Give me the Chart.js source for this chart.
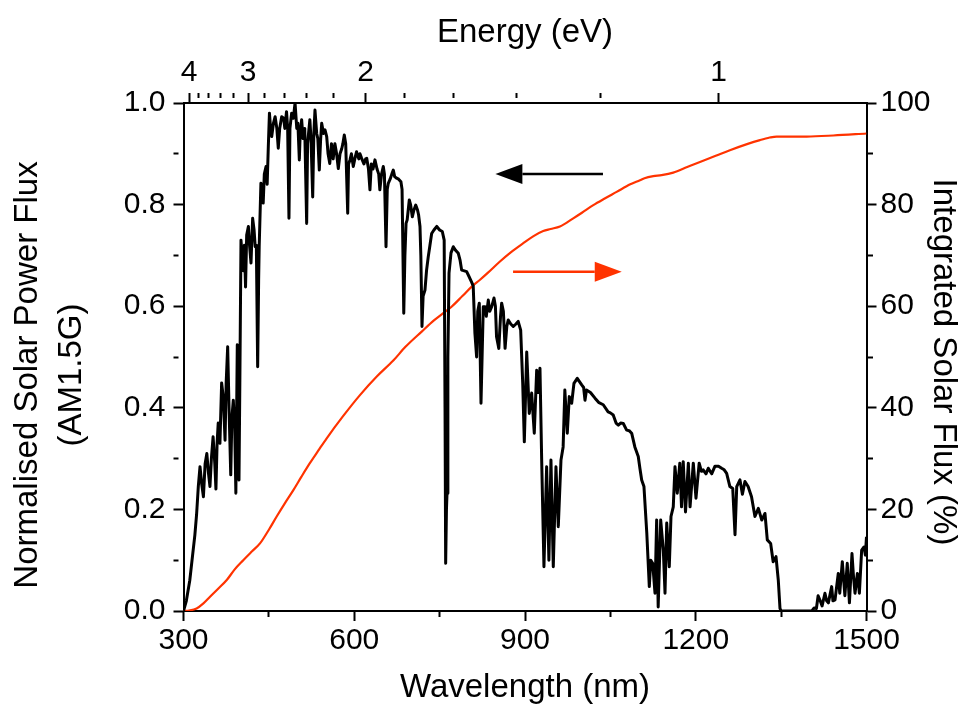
<!DOCTYPE html>
<html>
<head>
<meta charset="utf-8">
<script src="https://cdn.jsdelivr.net/npm/chart.js@4.4.1/dist/chart.umd.min.js"></script>
<style>
  html, body { margin: 0; padding: 0; background: #fff; }
  #wrap { width: 968px; height: 709px; }
</style>
</head>
<body>
<div id="wrap"><canvas id="Chart" width="968" height="709"></canvas></div>
<script>
// AM1.5G spectrum, normalised to its peak
const wavelength = [
  300, 305, 311, 316, 320, 323, 326, 329, 332, 335, 338, 341, 344, 346.5, 349, 352, 355, 357, 359, 361,
  364, 367, 370, 373, 375, 377.6, 380, 383, 385, 387.5, 390, 392, 394.5, 396, 397.5, 399, 401, 403, 405, 407,
  409, 411, 414, 416, 418.6, 421.5, 424, 426, 428, 430.3, 432, 433, 436, 438, 440, 442, 445, 447, 449, 451,
  453, 455, 458, 461, 464, 466.5, 469, 472.5, 476, 478, 481, 483, 485.3, 487, 490, 493, 496, 499, 501, 503.5,
  505, 507.6, 510, 513, 516.4, 518, 522, 524, 527, 529, 531, 534, 536, 538.6, 541, 542.8, 546, 548.6, 551.6, 554,
  557, 560, 563, 566, 569, 572, 575, 578, 580, 582.5, 585, 588.5, 590, 592.5, 595, 598.3, 601, 604, 608, 610,
  613, 617, 620, 622, 625, 627.6, 630, 633, 636.4, 640, 643, 645, 648, 651, 653, 655.8, 658, 659.8, 663, 666,
  668.6, 671, 674.5, 678, 682, 684, 687, 689, 691, 693, 696.7, 699, 702, 705, 708, 711, 713, 715.5, 717, 719,
  721, 724.3, 727, 730, 733, 736, 740, 745, 750, 754.7, 758, 759.5, 760.6, 762, 763, 764.5, 766.5, 770, 774, 778,
  782.8, 786, 788.7, 792, 797.5, 801, 806, 809, 812, 815, 817, 819.7, 822.7, 826.7, 829.7, 832, 835.5, 838, 841.5, 845.5,
  848, 850, 854, 857, 859, 862, 865, 868, 870.6, 875, 879.4, 884, 888, 892.4, 896, 898.8, 903, 907.5, 911.7, 916.3,
  920.5, 923, 926.3, 929.3, 933.3, 938, 942, 945.6, 949.7, 954.4, 958.5, 963.2, 967, 970, 974.3, 977.8, 982, 986, 991.8, 999.6,
  1003, 1005.4, 1008, 1015, 1023, 1030, 1037.5, 1046, 1050, 1055, 1060, 1064, 1068, 1072.7, 1078.6, 1083, 1087.4, 1093, 1099, 1102,
  1105, 1109, 1114, 1118.4, 1121, 1124.3, 1128.4, 1131.3, 1134, 1138.4, 1143, 1146, 1149, 1153.5, 1156.5, 1160.5, 1163.5, 1167.5, 1172, 1175,
  1178, 1182, 1187, 1190, 1195.7, 1200.4, 1206, 1210, 1213, 1218, 1222, 1228, 1233.8, 1240, 1245.5, 1250, 1254.3, 1260, 1265, 1269,
  1272, 1277.7, 1282, 1286.4, 1292, 1298, 1304, 1310, 1316, 1321.6, 1325.7, 1331.6, 1336, 1341, 1345, 1348, 1350, 1400, 1404, 1408,
  1412, 1415, 1418, 1422, 1427, 1430, 1433, 1438.8, 1441, 1444.7, 1450.4, 1453, 1457.5, 1460, 1462, 1466.2, 1470, 1474.5, 1477, 1479.8,
  1484, 1487.5, 1491.5, 1495.6, 1498, 1500
];
const solarFlux = [
  0, 0.02, 0.06, 0.11, 0.15, 0.19, 0.245, 0.284, 0.25, 0.225, 0.29, 0.31, 0.27, 0.245, 0.3, 0.343, 0.29, 0.24, 0.33, 0.37,
  0.33, 0.449, 0.42, 0.336, 0.45, 0.52, 0.4, 0.268, 0.38, 0.415, 0.36, 0.232, 0.524, 0.35, 0.258, 0.45, 0.73, 0.7, 0.67, 0.72,
  0.638, 0.74, 0.757, 0.72, 0.685, 0.773, 0.75, 0.717, 0.72, 0.481, 0.65, 0.717, 0.842, 0.82, 0.803, 0.86, 0.875, 0.84, 0.914, 0.98,
  0.95, 0.934, 0.96, 0.973, 0.95, 0.911, 0.95, 0.973, 0.97, 0.95, 0.983, 0.95, 0.773, 0.95, 0.98, 0.97, 1.0, 0.95, 0.96, 0.888,
  0.94, 0.967, 0.93, 0.95, 0.763, 0.92, 0.967, 0.93, 0.815, 0.94, 0.986, 0.94, 0.93, 0.868, 0.93, 0.96, 0.94, 0.947, 0.934, 0.9,
  0.881, 0.92, 0.89, 0.92, 0.9, 0.871, 0.9, 0.91, 0.92, 0.937, 0.92, 0.783, 0.88, 0.888, 0.9, 0.875, 0.89, 0.904, 0.89, 0.9,
  0.891, 0.88, 0.89, 0.891, 0.87, 0.829, 0.88, 0.87, 0.888, 0.87, 0.86, 0.829, 0.86, 0.875, 0.86, 0.717, 0.83, 0.842, 0.85, 0.86,
  0.868, 0.855, 0.852, 0.85, 0.845, 0.83, 0.586, 0.7, 0.763, 0.77, 0.809, 0.8, 0.776, 0.79, 0.799, 0.79, 0.78, 0.757, 0.7, 0.56,
  0.62, 0.632, 0.67, 0.697, 0.72, 0.743, 0.75, 0.757, 0.75, 0.747, 0.73, 0.4, 0.094, 0.2, 0.232, 0.5, 0.665, 0.705, 0.717, 0.71,
  0.704, 0.69, 0.671, 0.67, 0.668, 0.66, 0.648, 0.64, 0.547, 0.5, 0.59, 0.606, 0.409, 0.599, 0.599, 0.58, 0.612, 0.59, 0.599, 0.616,
  0.6, 0.54, 0.517, 0.58, 0.606, 0.59, 0.517, 0.56, 0.573, 0.565, 0.56, 0.565, 0.57, 0.553, 0.448, 0.333, 0.51, 0.389, 0.429, 0.35,
  0.474, 0.43, 0.478, 0.297, 0.087, 0.284, 0.1, 0.297, 0.087, 0.284, 0.166, 0.297, 0.323, 0.435, 0.35, 0.422, 0.409, 0.448, 0.458, 0.445,
  0.44, 0.415, 0.435, 0.43, 0.419, 0.41, 0.406, 0.392, 0.39, 0.386, 0.37, 0.366, 0.37, 0.369, 0.356, 0.355, 0.35, 0.323, 0.304, 0.28,
  0.258, 0.245, 0.153, 0.048, 0.1, 0.094, 0.035, 0.179, 0.008, 0.179, 0.12, 0.035, 0.173, 0.087, 0.186, 0.205, 0.284, 0.232, 0.291, 0.205,
  0.294, 0.195, 0.291, 0.205, 0.291, 0.222, 0.291, 0.275, 0.278, 0.27, 0.281, 0.27, 0.285, 0.285, 0.281, 0.278, 0.271, 0.245, 0.241, 0.15,
  0.245, 0.258, 0.23, 0.255, 0.245, 0.225, 0.186, 0.202, 0.179, 0.192, 0.14, 0.133, 0.097, 0.107, 0.061, 0.005, 0, 0, 0, 0.006,
  0.005, 0.03, 0.022, 0.01, 0.035, 0.02, 0.016, 0.048, 0.02, 0.022, 0.074, 0.035, 0.097, 0.06, 0.03, 0.094, 0.016, 0.113, 0.07, 0.035,
  0.074, 0.035, 0.12, 0.126, 0.11, 0.146
];

// cumulative share of the solar power, in %
const integratedWavelength = [
  300, 310, 323, 335, 346.6, 360, 376, 390, 405, 420, 434.4, 450, 463.7, 478, 493, 507, 522, 537, 551.6, 580,
  610, 640, 668.6, 690, 718.5, 740, 759.4, 771, 790, 806, 821, 835, 856, 875, 897, 915, 932, 945, 961.4, 984.8,
  1000, 1020, 1040, 1061, 1085, 1102, 1110, 1125.4, 1140, 1160.5, 1185, 1207.4, 1235, 1260, 1290, 1312.8, 1330, 1342, 1395, 1441.6,
  1500
];
const integratedFlux = [
  0, 0.1, 0.5, 1.5, 2.8, 4.3, 6.1, 8.2, 10, 11.7, 13.3, 16, 18.6, 21.2, 23.8, 26.4, 29.1, 31.6, 34, 38.3,
  42.5, 46.2, 49.3, 52.0, 55.0, 57.2, 58.9, 59.9, 62, 63.8, 65.2, 66.6, 68.8, 70.6, 72.4, 73.8, 74.8, 75.2, 75.7, 77.3,
  78.4, 79.9, 81.2, 82.5, 84.0, 84.8, 85.2, 85.6, 85.8, 86.3, 87.4, 88.4, 89.6, 90.7, 91.9, 92.7, 93.2, 93.4, 93.4, 93.6,
  94.0
];

// photon energy ticks on the top axis (eV), placed at 1240/E nm
const energyTicks = [4, 3.8, 3.6, 3.4, 3.2, 3, 2.8, 2.6, 2.4, 2.2, 2, 1.8, 1.6, 1.4, 1.2, 1];

const RED = '#ff3300';
const FONT = '"Liberation Sans", Arial, sans-serif';

function isWholeEnergy(nm) {
  const e = 1240 / nm;
  return Math.abs(e - Math.round(e)) < 1e-6;
}

// minor ticks: only the first few pixels of the tick line are drawn
const MINOR_DASH = [5, 40];

function axisStyle(isMajor) {
  return {
    drawOnChartArea: false,
    drawTicks: true,
    tickLength: 10,
    tickWidth: 2,
    tickColor: '#000',
    tickBorderDash: c => (c.tick && isMajor(c.tick.value)) ? [] : MINOR_DASH
  };
}

const tickFont = { family: FONT, size: 30 };

// axis titles and the two arrows
const decorations = {
  id: 'decorations',
  afterDraw(chart) {
    const { ctx, chartArea: a, scales } = chart;
    const cx = (a.left + a.right) / 2;
    ctx.save();
    ctx.fillStyle = '#000';
    ctx.font = '33px ' + FONT;
    ctx.textAlign = 'center';
    ctx.textBaseline = 'alphabetic';
    ctx.fillText('Energy (eV)', cx, 42);
    ctx.fillText('Wavelength (nm)', cx, 697);

    ctx.save();
    ctx.translate(37, 375);
    ctx.rotate(-Math.PI / 2);
    ctx.fillText('Normalised Solar Power Flux', 0, 0);
    ctx.restore();
    ctx.save();
    ctx.translate(81, 375);
    ctx.rotate(-Math.PI / 2);
    ctx.fillText('(AM1.5G)', 0, 0);
    ctx.restore();
    ctx.save();
    ctx.translate(934, 362);
    ctx.rotate(Math.PI / 2);
    ctx.fillText('Integrated Solar Flux (%)', 0, 0);
    ctx.restore();

    // black arrow points to the left axis, red arrow to the right one
    arrow(ctx, scales.x.getPixelForValue(1037), scales.x.getPixelForValue(848),
      scales.y.getPixelForValue(0.86), '#000');
    arrow(ctx, scales.x.getPixelForValue(879), scales.x.getPixelForValue(1070),
      scales.y2.getPixelForValue(66.8), RED);
    ctx.restore();
  }
};

function arrow(ctx, x0, x1, y, color) {
  const dir = Math.sign(x1 - x0);
  const head = 27, half = 10;
  ctx.strokeStyle = color;
  ctx.fillStyle = color;
  ctx.lineWidth = 2.5;
  ctx.beginPath();
  ctx.moveTo(x0, y);
  ctx.lineTo(x1 - dir * head, y);
  ctx.stroke();
  ctx.beginPath();
  ctx.moveTo(x1, y);
  ctx.lineTo(x1 - dir * head, y - half);
  ctx.lineTo(x1 - dir * head, y + half);
  ctx.closePath();
  ctx.fill();
}

const ctx = document.getElementById('Chart');

new Chart(ctx, {
  type: 'line',
  data: {
    datasets: [{
      label: 'AM1.5G',
      data: wavelength.map((w, i) => ({ x: w, y: solarFlux[i] })),
      borderColor: '#000',
      borderWidth: 3,
      borderJoinStyle: 'round',
      pointRadius: 0,
      tension: 0,
      xAxisID: 'x',
      yAxisID: 'y'
    }, {
      label: 'Integrated',
      data: integratedWavelength.map((w, i) => ({ x: w, y: integratedFlux[i] })),
      borderColor: RED,
      borderWidth: 2.2,
      pointRadius: 0,
      cubicInterpolationMode: 'monotone',
      xAxisID: 'x',
      yAxisID: 'y2'
    }]
  },
  options: {
    responsive: false,
    animation: false,
    layout: { padding: 0 },
    plugins: {
      legend: { display: false },
      tooltip: { enabled: false }
    },
    scales: {
      x: {
        type: 'linear',
        position: 'bottom',
        min: 300,
        max: 1500,
        border: { color: '#000', width: 2 },
        grid: axisStyle(v => (v - 300) % 300 === 0),
        ticks: {
          stepSize: 150,
          autoSkip: false,
          maxRotation: 0,
          color: '#000',
          font: tickFont,
          padding: 2,
          callback: v => (v - 300) % 300 === 0 ? String(v) : ''
        },
        afterFit: s => { s.height = 98; }
      },
      xTop: {
        type: 'linear',
        position: 'top',
        min: 300,
        max: 1500,
        border: { color: '#000', width: 2 },
        grid: axisStyle(isWholeEnergy),
        afterBuildTicks: s => { s.ticks = energyTicks.map(e => ({ value: 1240 / e })); },
        ticks: {
          autoSkip: false,
          maxRotation: 0,
          color: '#000',
          font: tickFont,
          padding: 2,
          callback: (v, i) => Number.isInteger(energyTicks[i]) ? String(energyTicks[i]) : ''
        },
        afterFit: s => { s.height = 103; }
      },
      y: {
        position: 'left',
        min: 0,
        max: 1,
        border: { color: '#000', width: 2 },
        grid: axisStyle(v => Math.round(v * 10) % 2 === 0),
        ticks: {
          stepSize: 0.1,
          autoSkip: false,
          color: '#000',
          font: tickFont,
          padding: 8,
          callback: v => Math.round(v * 10) % 2 === 0 ? v.toFixed(1) : ''
        },
        afterFit: s => { s.width = 183.5; }
      },
      y2: {
        position: 'right',
        min: 0,
        max: 100,
        border: { color: '#000', width: 2 },
        grid: axisStyle(v => Math.round(v) % 20 === 0),
        ticks: {
          stepSize: 10,
          autoSkip: false,
          color: '#000',
          font: tickFont,
          padding: 4,
          callback: v => Math.round(v) % 20 === 0 ? String(v) : ''
        },
        afterFit: s => { s.width = 101.5; }
      }
    }
  },
  plugins: [decorations]
});
</script>
</body>
</html>
